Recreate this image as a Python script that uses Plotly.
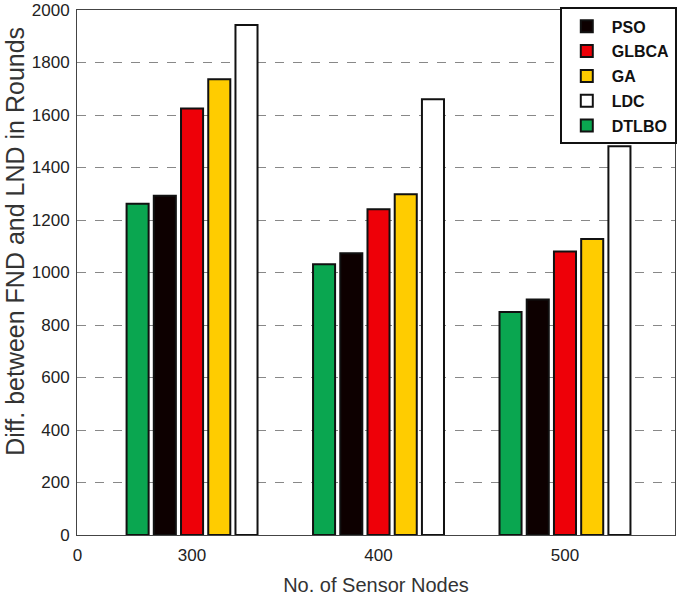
import plotly.graph_objects as go

groups = [1, 2, 3]
group_labels = ["300", "400", "500"]
series_names = ["DTLBO", "PSO", "GLBCA", "GA", "LDC"]
dtlbo = [1262, 1031, 850]
pso = [1292, 1073, 897]
glbca = [1625, 1241, 1080]
ga = [1736, 1298, 1128]
ldc = [1943, 1660, 1481]

colors = {"DTLBO": "#0aa650", "PSO": "#0d0000", "GLBCA": "#ee0008",
          "GA": "#ffcc00", "LDC": "#ffffff"}
ranks = {"PSO": 1, "GLBCA": 2, "GA": 3, "LDC": 4, "DTLBO": 5}
values = {"DTLBO": dtlbo, "PSO": pso, "GLBCA": glbca, "GA": ga, "LDC": ldc}

fig = go.Figure()
for name in series_names:
    fig.add_trace(go.Bar(
        x=groups, y=values[name], name=name, legendgroup=name,
        marker=dict(color=colors[name], line=dict(color="#111111", width=2)),
        legendrank=ranks[name],
    ))

fig.add_annotation(
    text="Diff. between FND and LND in Rounds",
    xref="paper", yref="paper", x=-0.104, y=0.56,
    xanchor="center", yanchor="middle", textangle=-90, showarrow=False,
    font=dict(size=25, color="#333333"),
)

fig.update_layout(
    width=685, height=596,
    barmode="group", bargap=0.27, bargroupgap=0.19,
    plot_bgcolor="white", paper_bgcolor="white",
    margin=dict(l=77, r=10, t=10, b=61, autoexpand=False),
    font=dict(family="Liberation Sans, Arial, sans-serif", color="#222222"),
    showlegend=True,
    legend=dict(
        x=1.003, y=1.005, xanchor="right", yanchor="top",
        bgcolor="white", bordercolor="#111111", borderwidth=2,
        font=dict(size=16, color="#111111", family="Liberation Sans, Arial, sans-serif", weight="bold"),
        tracegroupgap=1, itemwidth=40,
    ),
    xaxis=dict(
        range=[0.383, 3.59], automargin=False,
        tickmode="array",
        tickvals=[0.386] + groups,
        ticktext=["0"] + group_labels,
        showgrid=False, zeroline=False,
        showline=True, linecolor="#444444", linewidth=1, mirror=True,
        ticks="", tickfont=dict(size=17, color="#222222"), ticklabelstandoff=5,
        title=dict(text="No. of Sensor Nodes", font=dict(size=20, color="#333333"), standoff=13),
    ),
    yaxis=dict(
        range=[0, 2000], dtick=200, automargin=False,
        showgrid=True, gridcolor="#888888", griddash="dash", gridwidth=1,
        zeroline=False, ticklabeloverflow="allow",
        showline=True, linecolor="#444444", linewidth=1, mirror=True,
        ticks="", tickfont=dict(size=17, color="#222222"), ticklabelstandoff=3,
    ),
)

fig.write_html("out.html", config={"displayModeBar": False},
               post_script="document.body.style.margin='0px';")
